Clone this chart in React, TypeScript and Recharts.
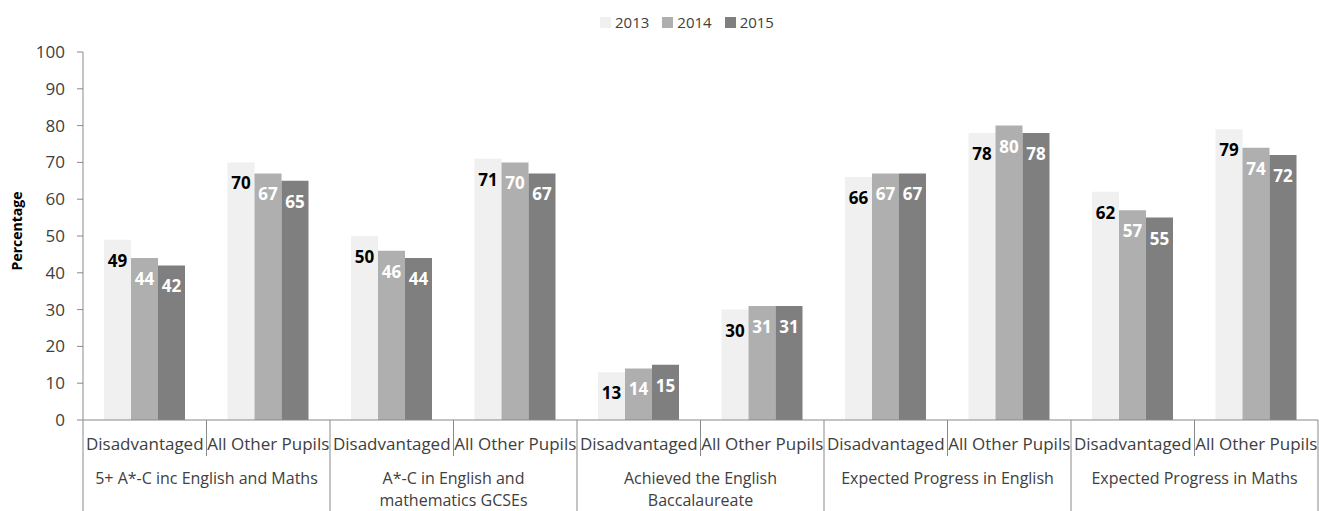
import React from "react";
import { BarChart, Bar, XAxis, YAxis, Legend, LabelList } from "recharts";

const CATEGORIES = [
  "Disadvantaged",
  "All Other Pupils",
  "Disadvantaged",
  "All Other Pupils",
  "Disadvantaged",
  "All Other Pupils",
  "Disadvantaged",
  "All Other Pupils",
  "Disadvantaged",
  "All Other Pupils",
];

const GROUPS = [
  ["5+ A*-C inc English and Maths"],
  ["A*-C in English and", "mathematics GCSEs"],
  ["Achieved the English", "Baccalaureate"],
  ["Expected Progress in English"],
  ["Expected Progress in Maths"],
];

const Y2013 = [49, 70, 50, 71, 13, 30, 66, 78, 62, 79];
const Y2014 = [44, 67, 46, 70, 14, 31, 67, 80, 57, 74];
const Y2015 = [42, 65, 44, 67, 15, 31, 67, 78, 55, 72];

const Y_TICKS = [0, 10, 20, 30, 40, 50, 60, 70, 80, 90, 100];

const CHART_W = 1319;
const CHART_H = 511;
const Y_AXIS_W = 83;
const MARGIN_RIGHT = 1;
const BAND = (CHART_W - Y_AXIS_W - MARGIN_RIGHT) / CATEGORIES.length;

const AXIS_COLOR = "#898989";
const TEXT_COLOR = "#404040";

const data = CATEGORIES.map((name, i) => ({
  name,
  y2013: Y2013[i],
  y2014: Y2014[i],
  y2015: Y2015[i],
}));

function CategoryTick(props: any) {
  const { x, y, payload, index } = props;
  const half = BAND / 2;
  const first = index % 2 === 0;
  const last = index === CATEGORIES.length - 1;
  const group = GROUPS[Math.floor(index / 2)];
  return (
    <g>
      <text x={x} y={y + 30} textAnchor="middle" fill={TEXT_COLOR} fontSize={17}>
        {payload.value}
      </text>
      {first ? (
        <line x1={x - half} x2={x - half} y1={y} y2={y + 91} stroke={AXIS_COLOR} />
      ) : (
        <line x1={x - half} x2={x - half} y1={y} y2={y + 36} stroke={AXIS_COLOR} />
      )}
      {last && <line x1={x + half} x2={x + half} y1={y} y2={y + 91} stroke={AXIS_COLOR} />}
      {first &&
        group.map((line, k) => (
          <text
            key={k}
            x={x + half}
            y={y + 64 + k * 22}
            textAnchor="middle"
            fill={TEXT_COLOR}
            fontSize={16}
          >
            {line}
          </text>
        ))}
    </g>
  );
}

function YTitle() {
  return (
    <text
      x={22}
      y={231}
      transform="rotate(-90, 22, 231)"
      textAnchor="middle"
      fontSize={14}
      fontWeight={700}
      fill="#000"
    >
      Percentage
    </text>
  );
}

const makeLabel = (color: string) => (props: any) => {
  const { x, y, width, value } = props;
  return (
    <text
      x={x + width / 2}
      y={y + 27}
      textAnchor="middle"
      fill={color}
      fontSize={17}
      fontWeight={700}
    >
      {value}
    </text>
  );
};

function LegendContent(props: any) {
  const { payload } = props;
  return (
    <div style={{ display: "flex", alignItems: "center", height: 20 }}>
      {(payload || []).map((p: any) => (
        <div key={p.value} style={{ display: "flex", alignItems: "center", marginRight: 13 }}>
          <span
            style={{ width: 11, height: 11, background: p.color, display: "inline-block", marginRight: 4 }}
          />
          <span style={{ fontSize: 15, color: TEXT_COLOR, lineHeight: "20px" }}>{p.value}</span>
        </div>
      ))}
    </div>
  );
}

export default function App() {
  return (
    <div
      style={{
        position: "absolute",
        left: 0,
        top: 0,
        width: CHART_W,
        height: CHART_H,
        background: "#fff",
        fontFamily: "'Open Sans', sans-serif",
      }}
    >
      <BarChart
        width={CHART_W}
        height={CHART_H}
        data={data}
        margin={{ top: 22, right: MARGIN_RIGHT, left: 0, bottom: 0 }}
        barCategoryGap={21}
        barGap={0}
      >
        <Legend
          verticalAlign="top"
          content={<LegendContent />}
          wrapperStyle={{ top: 12, left: 600, width: 220, height: 30 }}
        />
        <XAxis
          dataKey="name"
          interval={0}
          height={91}
          tickSize={0}
          tickMargin={0}
          tickLine={false}
          axisLine={{ stroke: AXIS_COLOR }}
          tick={<CategoryTick />}
        />
        <YAxis
          width={Y_AXIS_W}
          domain={[0, 100]}
          ticks={Y_TICKS}
          interval={0}
          tickSize={6}
          tickMargin={12}
          axisLine={{ stroke: AXIS_COLOR }}
          tickLine={{ stroke: AXIS_COLOR }}
          tick={{ fill: TEXT_COLOR, fontSize: 17 }}
          label={<YTitle />}
        />
        <Bar dataKey="y2013" name="2013" fill="#f0f0f0" isAnimationActive={false}>
          <LabelList dataKey="y2013" content={makeLabel("#000")} />
        </Bar>
        <Bar dataKey="y2014" name="2014" fill="#afafaf" isAnimationActive={false}>
          <LabelList dataKey="y2014" content={makeLabel("#fff")} />
        </Bar>
        <Bar dataKey="y2015" name="2015" fill="#7f7f7f" isAnimationActive={false}>
          <LabelList dataKey="y2015" content={makeLabel("#fff")} />
        </Bar>
      </BarChart>
    </div>
  );
}
